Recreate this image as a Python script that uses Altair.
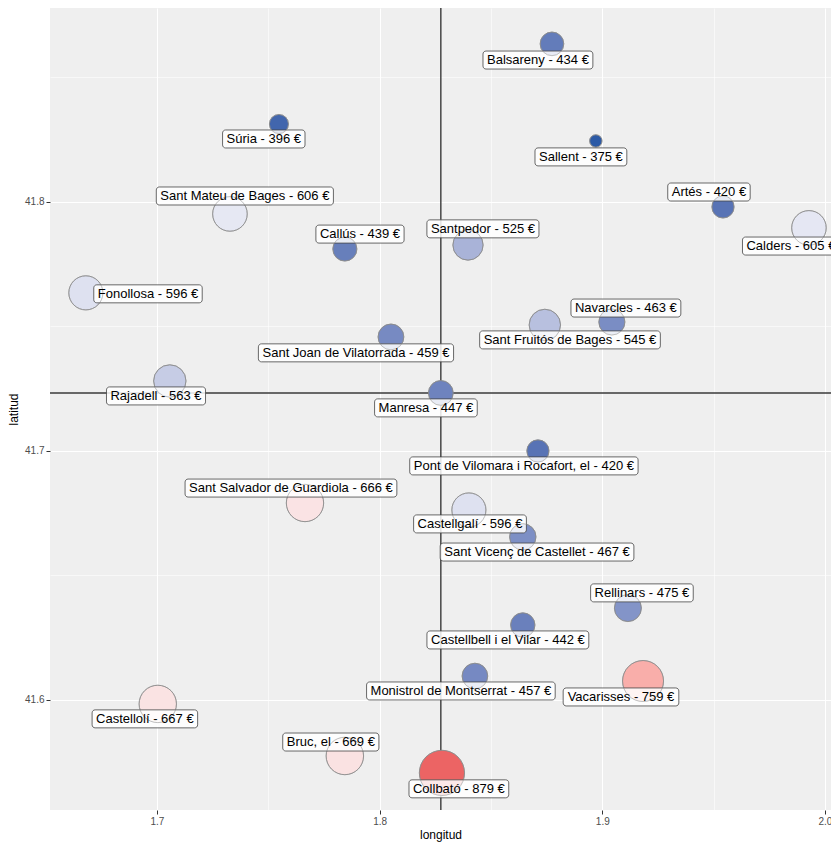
import altair as alt
import pandas as pd

# ---- data ----
names = ["Balsareny", "Súria", "Sallent", "Sant Mateu de Bages", "Artés", "Calders",
         "Callús", "Santpedor", "Fonollosa", "Navarcles", "Sant Fruitós de Bages",
         "Sant Joan de Vilatorrada", "Rajadell", "Manresa", "Pont de Vilomara i Rocafort, el",
         "Sant Salvador de Guardiola", "Castellgalí", "Sant Vicenç de Castellet", "Rellinars",
         "Castellbell i el Vilar", "Monistrol de Montserrat", "Vacarisses", "Castellolí",
         "Bruc, el", "Collbató"]
prices = [434, 396, 375, 606, 420, 605, 439, 525, 596, 463, 545, 459, 563, 447, 420,
          666, 596, 467, 475, 442, 457, 759, 667, 669, 879]
lon = [1.8774, 1.7548, 1.8971, 1.7328, 1.9542, 1.9928, 1.7844, 1.8397, 1.6681, 1.9043,
       1.8742, 1.8051, 1.7058, 1.8275, 1.8711, 1.7665, 1.8401, 1.8643, 1.9115, 1.8643,
       1.8428, 1.9183, 1.7004, 1.7844, 1.8280]
lat = [41.8635, 41.8313, 41.8245, 41.7952, 41.7980, 41.7896, 41.7811, 41.7827, 41.7635,
       41.7518, 41.7506, 41.7458, 41.7281, 41.7233, 41.7000, 41.6791, 41.6763, 41.6655,
       41.6369, 41.6301, 41.6096, 41.6076, 41.5984, 41.5775, 41.5707]
# repelled label anchor positions (data units)
label_lon = [1.8711, 1.7480, 1.8904, 1.7395, 1.9479, 1.9847, 1.7912, 1.8464, 1.6960, 1.9106,
             1.8855, 1.7894, 1.6996, 1.8208, 1.8648, 1.7602, 1.8406, 1.8707, 1.9178, 1.8576,
             1.8365, 1.9084, 1.6946, 1.7781, 1.8356]
label_lat = [41.8570, 41.8253, 41.8181, 41.8024, 41.8040, 41.7823, 41.7871, 41.7892, 41.7631,
             41.7574, 41.7446, 41.7394, 41.7221, 41.7173, 41.6940, 41.6851, 41.6707, 41.6594,
             41.6430, 41.6241, 41.6036, 41.6012, 41.5924, 41.5831, 41.5643]

x_ticks = [1.7, 1.75, 1.8, 1.85, 1.9, 1.95, 2.0]
y_ticks = [41.6, 41.65, 41.7, 41.75, 41.8, 41.85]
x_dom = [1.6520, 2.0027]
y_dom = [41.5558, 41.8779]

W, H = 781, 802
FS = 13

# Arial / Liberation Sans advance widths (per 1000 em) for label box sizing
AW = {" ": 278, ",": 278, "-": 333, "€": 556, ".": 278}
for c in "0123456789":
    AW[c] = 556
for c, w in zip("abcdefghijklmnopqrstuvwxyz",
                [556, 556, 500, 556, 556, 278, 556, 556, 222, 222, 500, 222, 833, 556, 556,
                 556, 556, 333, 500, 278, 556, 500, 722, 500, 500, 500]):
    AW[c] = w
for c, w in zip("ABCDEFGHIJKLMNOPQRSTUVWXYZ",
                [667, 667, 722, 722, 667, 611, 778, 722, 278, 500, 667, 556, 833, 722, 778,
                 667, 778, 722, 667, 611, 722, 667, 944, 667, 667, 611]):
    AW[c] = w
AW.update({"á": 556, "à": 556, "é": 556, "è": 556, "í": 278, "ó": 556, "ò": 556,
           "ú": 556, "ç": 500, "ñ": 556})


def text_px(s):
    return sum(AW.get(ch, 556) for ch in s) * FS / 1000.0


px_lon = W / (x_dom[1] - x_dom[0])
px_lat = H / (y_dom[1] - y_dom[0])

labels = [f"{n} - {p} €" for n, p in zip(names, prices)]
half_w = [(text_px(t) + 8) / 2 / px_lon for t in labels]
half_h = 9 / px_lat

df = pd.DataFrame({
    "name": names, "price": prices, "lon": lon, "lat": lat,
    "llon": label_lon, "llat": label_lat, "label": labels,
    "bx1": [a - h for a, h in zip(label_lon, half_w)],
    "bx2": [a + h for a, h in zip(label_lon, half_w)],
    "by1": [a - half_h for a in label_lat],
    "by2": [a + half_h for a in label_lat],
})

minor_test = "abs(datum.value*10 - round(datum.value*10)) > 0.01"

xax = alt.Axis(values=x_ticks, title="longitud", domain=False,
               labelExpr=f"({minor_test}) ? '' : format(datum.value, '.1f')",
               gridWidth={"condition": {"test": minor_test, "value": 0.55}, "value": 1.1},
               tickSize={"condition": {"test": minor_test, "value": 0}, "value": 4},
               titlePadding=3, labelPadding=2)
yax = alt.Axis(values=y_ticks, title="latitud", domain=False,
               labelExpr=f"({minor_test}) ? '' : format(datum.value, '.1f')",
               gridWidth={"condition": {"test": minor_test, "value": 0.55}, "value": 1.1},
               tickSize={"condition": {"test": minor_test, "value": 0}, "value": 4},
               titlePadding=4, labelPadding=2)

X = alt.X("lon:Q", scale=alt.Scale(domain=x_dom, nice=False, zero=False), axis=xax)
Y = alt.Y("lat:Q", scale=alt.Scale(domain=y_dom, nice=False, zero=False), axis=yax)

# ggplot-like area palette: radius linear in sqrt of rescaled price
base = alt.Chart(df).transform_calculate(
    skey="pow(0.378 + sqrt((datum.price - 375) / 504), 2)"
)

manresa = df[df["name"] == "Manresa"]
vline = alt.Chart(manresa).mark_rule(color="#3a3a3a", strokeWidth=1.4).encode(x=alt.X("lon:Q"))
hline = alt.Chart(manresa).mark_rule(color="#3a3a3a", strokeWidth=1.4).encode(y=alt.Y("lat:Q"))

color_scale = alt.Scale(domain=[375, 630, 879],
                        range=["#2c5aa6", "#f8f8fb", "#ec6464"], interpolate="lab")
size_scale = alt.Scale(domain=[0, 1.899], range=[0, 2043], zero=True)

circles = base.mark_circle(opacity=1, stroke="#8a8a8a", strokeWidth=0.8).encode(
    x=X, y=Y,
    color=alt.Color("price:Q", scale=color_scale, legend=None),
    size=alt.Size("skey:Q", scale=size_scale, legend=None),
)

boxes = base.mark_rect(fill="white", fillOpacity=0.85, stroke="#444", strokeWidth=0.8,
                       cornerRadius=3).encode(
    x=alt.X("bx1:Q"), x2="bx2:Q", y=alt.Y("by1:Q"), y2="by2:Q")

outlines = base.mark_point(filled=False, shape="circle", stroke="#8a8a8a",
                           strokeWidth=0.8, opacity=0.6).encode(
    x=alt.X("lon:Q"), y=alt.Y("lat:Q"),
    size=alt.Size("skey:Q", scale=size_scale, legend=None))

texts = base.mark_text(fontSize=FS, font="Liberation Sans", color="black",
                       align="center", baseline="middle").encode(
    x=alt.X("llon:Q"), y=alt.Y("llat:Q"), text="label:N")

chart = alt.layer(vline, hline, circles, boxes, outlines, texts).properties(
    width=W, height=H,
    autosize=alt.AutoSizeParams(type="none"),
    padding={"left": 42, "top": 0, "right": 0, "bottom": 33},
).configure_view(fill="#efefef", stroke=None).configure_axis(
    gridColor="white", tickColor="#333333", labelColor="#4d4d4d", labelFontSize=10,
    labelFont="Liberation Sans", titleFont="Liberation Sans", titleFontSize=12,
    titleFontWeight="normal", titleColor="black"
)

chart.save("out.html", embed_options={"renderer": "svg", "actions": False})
